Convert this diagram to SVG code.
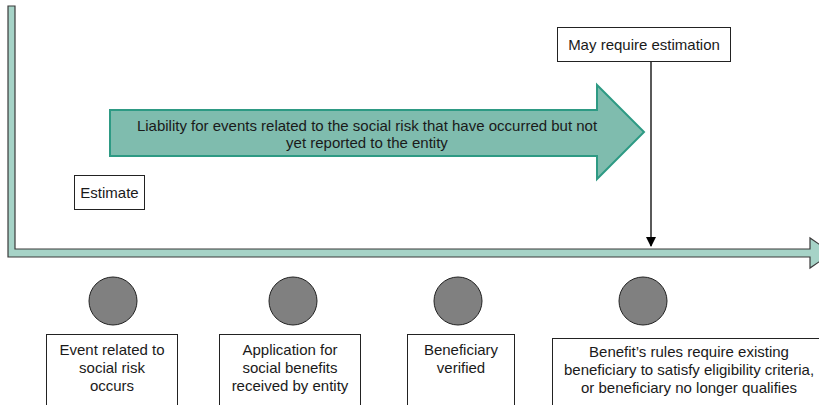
<svg xmlns="http://www.w3.org/2000/svg" width="819" height="405" viewBox="0 0 819 405">
<defs>
<style>
text{font-family:"Liberation Sans",Arial,sans-serif;font-size:15px;fill:#1a1a1a;text-anchor:middle}
.box{fill:#fff;stroke:#222;stroke-width:1}
.dot{fill:#808080;stroke:#222;stroke-width:1}
</style>
<marker id="ah" markerWidth="10" markerHeight="10" refX="9" refY="5" orient="auto" markerUnits="userSpaceOnUse">
<path d="M0,0 L10,5 L0,10 Z" fill="#000"/>
</marker>
</defs>
<rect width="819" height="405" fill="#fff"/>
<g id="timeline-axis">
<polygon points="8,6 15,6 15,249 810,249 810,238 832,253 810,268 810,257 8,257" fill="#a6d3c7" stroke="#3a3a3a" stroke-width="1.2"/>
</g>
<g id="liability-arrow">
<polygon points="110,110 597,110 597,85 644,132 597,179 597,156 110,156" fill="#7fbcae" stroke="#2e9a84" stroke-width="2"/>
<text x="367" y="131">Liability for events related to the social risk that have occurred but not</text>
<text x="367" y="148">yet reported to the entity</text>
</g>
<g id="estimate">
<rect class="box" x="74.5" y="175.5" width="70" height="34"/>
<text x="109.5" y="198">Estimate</text>
</g>
<g id="may-require">
<rect class="box" x="557.5" y="27.5" width="173" height="34"/>
<text x="644" y="50">May require estimation</text>
</g>
<g id="connectors">
<line x1="651" y1="62" x2="651" y2="246" stroke="#000" stroke-width="1.3" marker-end="url(#ah)"/>
</g>
<g id="event-1">
<circle class="dot" cx="113" cy="301" r="24"/>
<rect class="box" x="46.5" y="334.5" width="131" height="80"/>
<text x="112" y="355">Event related to</text>
<text x="112" y="373">social risk</text>
<text x="112" y="391">occurs</text>
</g>
<g id="event-2">
<circle class="dot" cx="293" cy="301" r="24"/>
<rect class="box" x="219.5" y="334.5" width="141" height="80"/>
<text x="290" y="355">Application for</text>
<text x="290" y="373">social benefits</text>
<text x="290" y="391">received by entity</text>
</g>
<g id="event-3">
<circle class="dot" cx="458" cy="301" r="24"/>
<rect class="box" x="407.5" y="334.5" width="107" height="80"/>
<text x="461" y="355">Beneficiary</text>
<text x="461" y="373">verified</text>
</g>
<g id="event-4">
<circle class="dot" cx="643" cy="301" r="24"/>
<rect class="box" x="552.5" y="338.5" width="272" height="80"/>
<text x="689" y="357">Benefit’s rules require existing</text>
<text x="689" y="375">beneficiary to satisfy eligibility criteria,</text>
<text x="689" y="393">or beneficiary no longer qualifies</text>
</g>
</svg>
